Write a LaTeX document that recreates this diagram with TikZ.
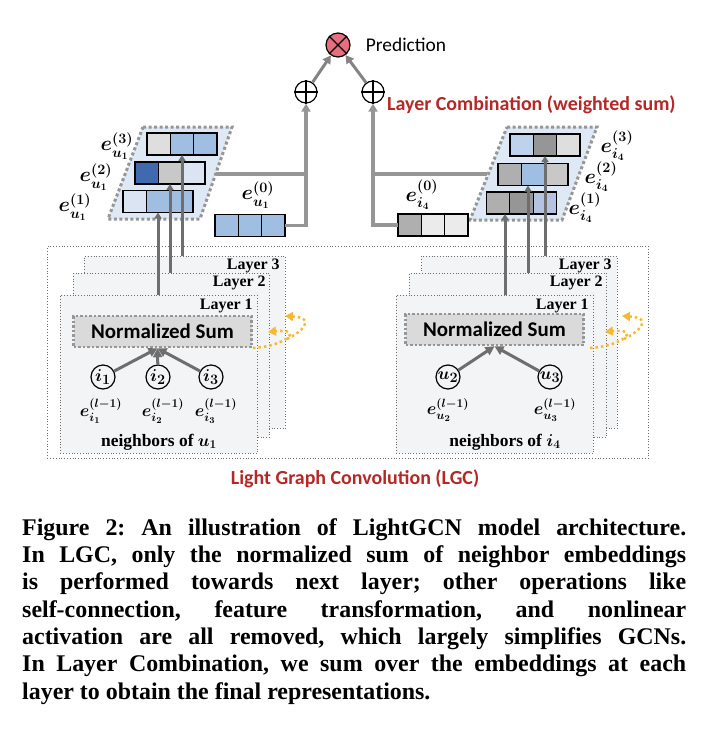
\documentclass[tikz,border=0pt]{standalone}
\usepackage{fontspec}
\usepackage{amsmath}
\setsansfont{Carlito}
\newfontfamily\capfont{Liberation Serif}
\usetikzlibrary{arrows.meta,positioning,calc}

\definecolor{bluelt}{RGB}{218,228,242}
\definecolor{bluemd}{RGB}{160,190,225}
\definecolor{bluedk}{RGB}{65,105,175}
\definecolor{bluepale}{RGB}{190,210,235}
\definecolor{bluelav}{RGB}{180,195,225}
\definecolor{graywh}{RGB}{235,235,235}
\definecolor{graylt}{RGB}{222,222,222}
\definecolor{graymd}{RGB}{200,200,200}
\definecolor{grayst}{RGB}{175,175,175}
\definecolor{graydk}{RGB}{150,150,150}
\definecolor{stackblue}{RGB}{222,233,245}
\definecolor{dotgray}{RGB}{150,150,150}
\definecolor{boxgray}{RGB}{110,110,110}
\definecolor{layerfill}{RGB}{243,244,246}
\definecolor{sumfill}{RGB}{218,218,218}
\definecolor{arrowgray}{RGB}{110,110,110}
\definecolor{combgray}{RGB}{150,150,150}
\definecolor{predred}{RGB}{230,110,125}
\definecolor{titlered}{RGB}{180,40,40}
\definecolor{hopyellow}{RGB}{245,185,50}

% one embedding vector: name, centre, cell colours
\newcommand\embrow[3]{%
  \node[cellrow] (#1) at (#2) {};
  \foreach \c [count=\k from 0] in {#3}
    \draw[cellline,fill=\c] ([xshift=\k*70bp/3]#1.south west) rectangle ([xshift=(\k+1)*70bp/3]#1.north west);
}

\begin{document}
\begin{tikzpicture}[x=1bp,y=-1bp,
  cellrow/.style={minimum width=70bp,minimum height=22bp,inner sep=0pt,outer sep=0pt},
  cellline/.style={draw=black,line width=1.2bp},
  stackbg/.style={fill=stackblue,draw=dotgray,line width=3bp,dash pattern=on 3bp off 2.5bp},
  lgcbox/.style={draw=boxgray,line width=0.8bp,dotted,anchor=north west,inner sep=0pt},
  layerbox/.style={lgcbox,fill=layerfill},
  layertext/.style={font=\capfont\bfseries\fontsize{16}{16}\selectfont,anchor=north east,inner sep=0pt},
  sumbox/.style={fill=sumfill,draw=dotgray,line width=2.5bp,dash pattern=on 2.5bp off 2bp,
    minimum width=178bp,minimum height=31bp,font=\sffamily\bfseries\fontsize{21}{21}\selectfont},
  nbnode/.style={circle,draw=black,line width=1.2bp,minimum size=24bp,inner sep=0pt,
    font=\fontsize{19}{19}\selectfont\boldmath},
  nblab/.style={font=\fontsize{18}{18}\selectfont\boldmath,inner sep=0pt},
  nbtext/.style={font=\capfont\bfseries\fontsize{17.5}{17.5}\selectfont\boldmath,inner sep=0pt},
  emblab/.style={font=\fontsize{20.5}{20.5}\selectfont\boldmath,inner sep=0pt},
  nbarrow/.style={draw=arrowgray,line width=3bp,-{Triangle[length=9bp,width=9bp]}},
  feed/.style={draw=arrowgray,line width=3bp,-{Triangle[length=6bp,width=7bp]}},
  comb/.style={draw=combgray,line width=3.5bp},
  hop/.style={draw=hopyellow,line width=2.5bp,dash pattern=on 2.5bp off 3bp,
    -{Triangle[length=8bp,width=9bp]}},
  opnode/.style={circle,draw=black,line width=1.2bp,inner sep=0pt},
  redtitle/.style={font=\sffamily\bfseries\fontsize{20}{20}\selectfont,text=titlered,inner sep=0pt}]
\useasboundingbox (0,0) rectangle (720,740);

% light graph convolution
\node[lgcbox,minimum width=601bp,minimum height=212bp] (lgc) at (47,246) {};
\node[layerbox,minimum width=201bp,minimum height=172bp] (lu3) at (84,256) {};
\node[layerbox,minimum width=196bp,minimum height=164bp] (lu2) at (73,273) {};
\node[layerbox,minimum width=197bp,minimum height=158bp] (lu1) at (60,295) {};
\node[layerbox,minimum width=196bp,minimum height=172bp] (li3) at (421,256) {};
\node[layerbox,minimum width=197bp,minimum height=164bp] (li2) at (409,273) {};
\node[layerbox,minimum width=197bp,minimum height=158bp] (li1) at (396,295) {};
\foreach \s in {u,i}{
  \node[layertext] at ([shift={(-6bp,-3bp)}]l\s3.north east) {Layer 3};
  \node[layertext] at ([shift={(-4bp,-3bp)}]l\s2.north east) {Layer 2};
  \node[layertext] at ([shift={(-5bp,-4bp)}]l\s1.north east) {Layer 1};
}

\node[sumbox] (sumL) at (162.5,331.5) {Normalized Sum};
\node[sumbox] (sumR) at (494.5,329.5) {Normalized Sum};

\node[nbnode] (i1) at (103,377) {$i_1$};
\node[nbnode] (i2) at (158,377) {$i_2$};
\node[nbnode] (i3) at (211,377) {$i_3$};
\node[nbnode] (u2) at (448,377) {$u_2$};
\node[nbnode] (u3) at (550,377) {$u_3$};
\foreach \n in {i1,i2,i3}
  \draw[nbarrow] (\n) -- ([xshift=-5bp]sumL.south);
\foreach \n in {u2,u3}
  \draw[nbarrow] (\n) -- (sumR.south);

\node[nblab] at (101,411) {$e_{i_1}^{(l-1)}$};
\node[nblab] at (163,411) {$e_{i_2}^{(l-1)}$};
\node[nblab] at (216,411) {$e_{i_3}^{(l-1)}$};
\node[nblab] at (448,410) {$e_{u_2}^{(l-1)}$};
\node[nblab] at (555,410) {$e_{u_3}^{(l-1)}$};
\node[nbtext] at (159,442) {neighbors of $u_1$};
\node[nbtext] at (505,442) {neighbors of $i_4$};

% hops between layers
\foreach \dx in {0,337}{
  \draw[hop] (253+\dx,348) .. controls (287+\dx,346) and (304+\dx,328) .. (268+\dx,332);
  \draw[hop] (287+\dx,339) .. controls (300+\dx,333) and (318+\dx,318) .. (285+\dx,316);
}

\node[redtitle] (lgclab) at (355,479) {Light Graph Convolution (LGC)};

% layer combination
\draw[stackbg] (143,127) -- (232,127) -- (200,219) -- (108,219) -- cycle;
\draw[stackbg] (507,127) -- (597,127) -- (562,220) -- (470,220) -- cycle;
\coordinate (stkL) at (216,174);
\coordinate (stkR) at (487,174);

\embrow{ul3}{182,144}{graylt,bluemd,bluemd}
\embrow{ul2}{170,173}{bluedk,graymd,bluelt}
\embrow{ul1}{158,201.5}{bluelt,bluemd,bluemd}
\embrow{eu0}{250,225.5}{bluemd,bluemd,bluemd}
\embrow{ir3}{545,145}{bluepale,graydk,graylt}
\embrow{ir2}{533,174.5}{grayst,bluemd,graymd}
\embrow{ir1}{521.5,203}{grayst,graydk,bluelav}
\embrow{ei0}{433,225}{grayst,graywh,graywh}

\draw[feed] (ul1.south |- lu1.north) -- (ul1.south);
\draw[feed] (ul2.south |- lu2.north) -- (ul2.south);
\draw[feed] (ul3.south |- lu3.north) -- (ul3.south);
\draw[feed] ([xshift=-16.5bp]ir1.south |- li1.north) -- ([xshift=-16.5bp]ir1.south);
\draw[feed] ([xshift=-5bp]ir2.south |- li2.north) -- ([xshift=-5bp]ir2.south);
\draw[feed] (ir3.south |- li3.north) -- (ir3.south);

\node[emblab] at (117,146) {$e_{u_1}^{(3)}$};
\node[emblab] at (96,177) {$e_{u_1}^{(2)}$};
\node[emblab] at (75,207) {$e_{u_1}^{(1)}$};
\node[emblab] at (258,195) {$e_{u_1}^{(0)}$};
\node[emblab] at (617,146) {$e_{i_4}^{(3)}$};
\node[emblab] at (601,177) {$e_{i_4}^{(2)}$};
\node[emblab] at (585,208) {$e_{i_4}^{(1)}$};
\node[emblab] at (422,195) {$e_{i_4}^{(0)}$};

\node[opnode,minimum size=22bp] (sumU) at (306,92) {};
\node[opnode,minimum size=22bp] (sumI) at (373,92) {};
\node[opnode,fill=predred,minimum size=24bp] (pred) at (338,45) {};
\foreach \n in {sumU,sumI}
  \draw[line width=1.2bp] (\n.north) -- (\n.south) (\n.west) -- (\n.east);
\draw[line width=1.2bp] (pred.north west) -- (pred.south east) (pred.north east) -- (pred.south west);

\draw[comb,-{Triangle[length=8bp,width=9bp]}] (eu0.east) -| (sumU);
\draw[comb] (stkL) -- (stkL -| sumU);
\draw[comb,-{Triangle[length=8bp,width=9bp]}] (ei0.west) -| (sumI);
\draw[comb] (stkR) -- (stkR -| sumI);
\draw[draw=arrowgray!85,line width=3bp,-{Triangle[length=8bp,width=9bp]}] (sumU) -- (pred);
\draw[draw=arrowgray!85,line width=3bp,-{Triangle[length=8bp,width=9bp]}] (sumI) -- (pred);

\node[font=\sffamily\fontsize{19.5}{19.5}\selectfont,inner sep=0pt,right=15bp of pred] (predlab) {Prediction};
\node[redtitle,anchor=west] (lclab) at (387,105) {Layer Combination (weighted sum)};

% caption
\node[anchor=base west,text width=664bp,inner sep=0pt,align=justify,
  font=\capfont\bfseries\fontsize{24}{27.5}\selectfont] (cap) at (22,535)
  {\frenchspacing\tolerance=9999\hbadness=10000
   Figure 2: An illustration of LightGCN model architecture.\linebreak
   In LGC, only the normalized sum of neighbor embeddings\linebreak
   is performed towards next layer; other operations like\linebreak
   self-connection, feature transformation, and nonlinear\linebreak
   activation are all removed, which largely simplifies GCNs.\linebreak
   In Layer Combination, we sum over the embeddings at each\linebreak
   layer to obtain the final representations.};
\end{tikzpicture}
\end{document}
